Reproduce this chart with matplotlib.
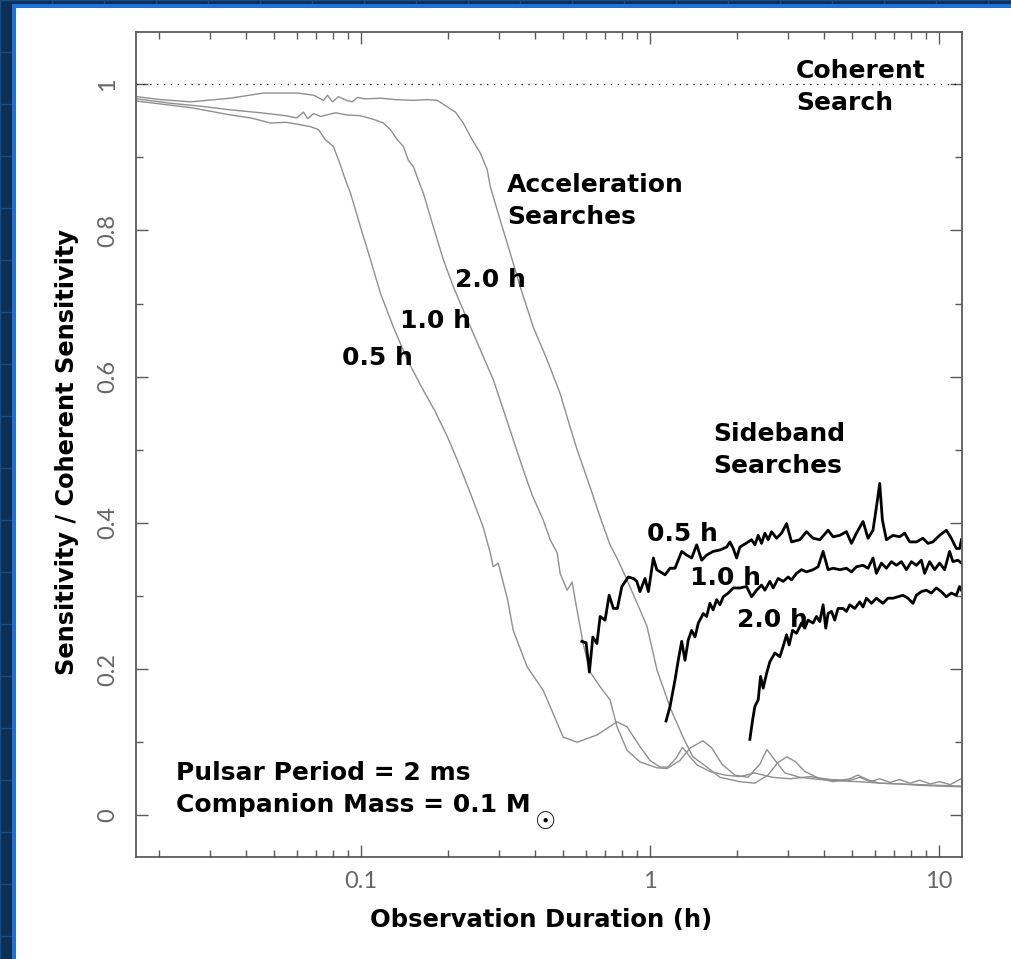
import matplotlib
matplotlib.use("Agg")
import matplotlib.pyplot as plt
from matplotlib.patches import Rectangle
from matplotlib.ticker import FixedLocator, FuncFormatter, LogLocator, NullFormatter, MultipleLocator

# ---------------- data ----------------
# Acceleration searches (grey curves); x = observation duration (h)
acc05_x = [0.0168, 0.0203, 0.0258, 0.0354, 0.0415, 0.0487, 0.0549, 0.0592, 0.0669, 0.0713,
           0.0754, 0.0803, 0.0850, 0.0884, 0.0920, 0.0996, 0.1079, 0.1168, 0.1295, 0.1447,
           0.1605, 0.1808, 0.1990, 0.2154, 0.2389, 0.2649, 0.2801, 0.2869, 0.2985, 0.3107,
           0.3216, 0.3363, 0.3759, 0.4270, 0.4624, 0.5007, 0.5596, 0.6558, 0.7691, 0.8325,
           0.9234, 1.000, 1.083, 1.154, 1.23, 1.295, 1.375, 1.453, 1.612, 1.82,
           2.046, 2.30, 2.65, 3.06, 3.58, 4.20, 4.93, 5.31, 5.78, 6.23,
           6.77, 7.30, 7.94, 8.57, 9.31, 10.04, 10.92, 11.9]
acc05_y = [0.977, 0.973, 0.968, 0.958, 0.954, 0.947, 0.948, 0.946, 0.942, 0.938,
           0.924, 0.915, 0.889, 0.869, 0.851, 0.805, 0.760, 0.714, 0.668, 0.623,
           0.589, 0.552, 0.518, 0.486, 0.441, 0.394, 0.359, 0.340, 0.345, 0.318,
           0.295, 0.253, 0.203, 0.171, 0.139, 0.107, 0.100, 0.110, 0.128, 0.121,
           0.094, 0.075, 0.066, 0.066, 0.078, 0.093, 0.080, 0.069, 0.060, 0.055,
           0.053, 0.058, 0.052, 0.050, 0.053, 0.049, 0.048, 0.052, 0.046, 0.050,
           0.045, 0.049, 0.044, 0.048, 0.043, 0.046, 0.042, 0.050]

acc10_x = [0.0168, 0.0220, 0.0279, 0.0354, 0.0450, 0.0549, 0.0599, 0.0633, 0.0654, 0.0686,
           0.0725, 0.0817, 0.0898, 0.0996, 0.1105, 0.1196, 0.1264, 0.1337, 0.1402, 0.1459,
           0.1520, 0.1579, 0.1644, 0.1780, 0.1928, 0.2087, 0.2333, 0.2587, 0.2869, 0.3107,
           0.3363, 0.3641, 0.3912, 0.4270, 0.4514, 0.4774, 0.4887, 0.5167, 0.5378, 0.5508,
           0.5870, 0.6204, 0.6718, 0.7274, 0.7691, 0.8325, 0.9234, 1.057, 1.145, 1.269,
           1.375, 1.524, 1.637, 1.773, 1.966, 2.181, 2.40, 2.536, 2.71, 2.927,
           3.30, 3.87, 4.53, 5.31, 6.23, 7.30, 8.57, 10.04, 11.9]
acc10_y = [0.980, 0.974, 0.970, 0.965, 0.961, 0.957, 0.954, 0.962, 0.953, 0.960,
           0.956, 0.961, 0.958, 0.957, 0.952, 0.947, 0.938, 0.924, 0.915, 0.896,
           0.887, 0.869, 0.851, 0.805, 0.760, 0.723, 0.678, 0.637, 0.596, 0.555,
           0.514, 0.473, 0.438, 0.404, 0.377, 0.359, 0.331, 0.308, 0.319, 0.295,
           0.235, 0.196, 0.176, 0.158, 0.121, 0.089, 0.073, 0.065, 0.064, 0.075,
           0.092, 0.102, 0.092, 0.070, 0.055, 0.052, 0.070, 0.090, 0.075, 0.058,
           0.052, 0.049, 0.047, 0.046, 0.044, 0.043, 0.042, 0.041, 0.040]

acc20_x = [0.0168, 0.0203, 0.0258, 0.0354, 0.0460, 0.0527, 0.0603, 0.0686, 0.0742, 0.0766,
           0.0797, 0.0836, 0.0891, 0.0935, 0.0972, 0.1036, 0.1168, 0.1316, 0.1520, 0.1697,
           0.1837, 0.1990, 0.2121, 0.2259, 0.2427, 0.2587, 0.2735, 0.2801, 0.3033, 0.3284,
           0.3556, 0.3944, 0.4406, 0.4887, 0.5292, 0.5596, 0.6204, 0.6718, 0.7274, 0.7752,
           0.8325, 0.9234, 0.9766, 1.057, 1.172, 1.300, 1.408, 1.573, 1.745, 2.046,
           2.305, 2.557, 2.767, 2.973, 3.169, 3.431, 3.87, 4.30, 4.91, 5.23,
           5.72, 6.23, 7.30, 8.57, 10.04, 11.9]
acc20_y = [0.983, 0.979, 0.976, 0.981, 0.988, 0.988, 0.988, 0.985, 0.978, 0.985,
           0.976, 0.983, 0.978, 0.976, 0.982, 0.980, 0.981, 0.979, 0.978, 0.979,
           0.978, 0.969, 0.962, 0.947, 0.924, 0.906, 0.883, 0.860, 0.814, 0.769,
           0.723, 0.668, 0.623, 0.577, 0.531, 0.500, 0.449, 0.408, 0.370, 0.349,
           0.322, 0.281, 0.258, 0.199, 0.148, 0.107, 0.080, 0.066, 0.052, 0.046,
           0.044, 0.055, 0.072, 0.080, 0.074, 0.060, 0.050, 0.046, 0.050, 0.055,
           0.048, 0.044, 0.043, 0.041, 0.040, 0.039]

# Sideband searches (black curves)
sb05_x = [0.581, 0.601, 0.617, 0.634, 0.655, 0.672, 0.699, 0.722, 0.747, 0.771,
          0.799, 0.841, 0.876, 0.900, 0.923, 0.961, 0.987, 1.027, 1.055, 1.127,
          1.173, 1.220, 1.287, 1.339, 1.393, 1.450, 1.509, 1.570, 1.654, 1.745,
          1.841, 1.890, 1.940, 1.993, 2.046, 2.186, 2.246, 2.305, 2.367, 2.431,
          2.496, 2.563, 2.633, 2.740, 2.851, 2.967, 3.087, 3.297, 3.478, 3.665,
          3.866, 4.130, 4.298, 4.533, 4.780, 4.975, 5.176, 5.455, 5.677, 5.906,
          6.117, 6.231, 6.365, 6.571, 6.925, 7.305, 7.600, 7.909, 8.342, 8.790,
          9.147, 9.519, 10.04, 10.59, 11.02, 11.47, 11.77, 11.95]
sb05_y = [0.238, 0.236, 0.196, 0.244, 0.235, 0.272, 0.267, 0.301, 0.283, 0.283,
          0.313, 0.326, 0.324, 0.320, 0.306, 0.324, 0.306, 0.352, 0.336, 0.329,
          0.338, 0.338, 0.361, 0.356, 0.352, 0.370, 0.349, 0.356, 0.361, 0.363,
          0.367, 0.374, 0.365, 0.352, 0.367, 0.374, 0.377, 0.370, 0.383, 0.372,
          0.386, 0.377, 0.388, 0.379, 0.386, 0.399, 0.374, 0.377, 0.388, 0.379,
          0.377, 0.390, 0.381, 0.383, 0.388, 0.372, 0.386, 0.402, 0.379, 0.390,
          0.431, 0.454, 0.404, 0.377, 0.383, 0.381, 0.386, 0.374, 0.374, 0.379,
          0.372, 0.374, 0.383, 0.390, 0.379, 0.365, 0.365, 0.377]

sb10_x = [1.136, 1.173, 1.220, 1.252, 1.287, 1.321, 1.356, 1.393, 1.431, 1.469,
          1.528, 1.570, 1.611, 1.654, 1.700, 1.745, 1.792, 1.864, 1.940, 2.046,
          2.158, 2.246, 2.337, 2.431, 2.496, 2.597, 2.667, 2.775, 2.887, 3.005,
          3.087, 3.211, 3.342, 3.478, 3.665, 3.814, 3.969, 4.130, 4.298, 4.533,
          4.780, 4.975, 5.176, 5.455, 5.677, 5.906, 6.069, 6.315, 6.571, 6.839,
          7.116, 7.405, 7.706, 8.018, 8.342, 8.680, 8.911, 9.273, 9.649, 10.04,
          10.45, 10.87, 11.16, 11.61, 11.95]
sb10_y = [0.129, 0.149, 0.185, 0.212, 0.238, 0.212, 0.240, 0.253, 0.244, 0.263,
          0.276, 0.272, 0.290, 0.281, 0.295, 0.288, 0.299, 0.304, 0.311, 0.311,
          0.313, 0.299, 0.308, 0.315, 0.308, 0.320, 0.311, 0.324, 0.320, 0.326,
          0.322, 0.331, 0.336, 0.333, 0.336, 0.340, 0.361, 0.336, 0.338, 0.336,
          0.338, 0.333, 0.340, 0.342, 0.338, 0.352, 0.331, 0.345, 0.338, 0.347,
          0.342, 0.347, 0.336, 0.347, 0.342, 0.349, 0.331, 0.347, 0.336, 0.345,
          0.336, 0.361, 0.347, 0.349, 0.345]

sb20_x = [2.215, 2.263, 2.305, 2.367, 2.412, 2.463, 2.530, 2.597, 2.703, 2.813,
          2.887, 2.967, 3.029, 3.112, 3.211, 3.342, 3.431, 3.522, 3.665, 3.766,
          3.866, 3.969, 4.054, 4.130, 4.243, 4.355, 4.471, 4.652, 4.780, 4.908,
          5.107, 5.314, 5.455, 5.605, 5.833, 6.069, 6.390, 6.650, 6.925, 7.208,
          7.499, 7.804, 8.122, 8.342, 8.680, 9.030, 9.397, 9.779, 10.18, 10.59,
          11.02, 11.47, 11.77, 11.95]
sb20_y = [0.104, 0.130, 0.149, 0.158, 0.190, 0.174, 0.194, 0.210, 0.222, 0.217,
          0.231, 0.247, 0.233, 0.253, 0.249, 0.263, 0.256, 0.267, 0.263, 0.272,
          0.265, 0.288, 0.256, 0.276, 0.279, 0.267, 0.283, 0.283, 0.279, 0.288,
          0.283, 0.292, 0.285, 0.297, 0.290, 0.297, 0.290, 0.297, 0.297, 0.299,
          0.301, 0.297, 0.290, 0.301, 0.306, 0.308, 0.304, 0.311, 0.306, 0.299,
          0.304, 0.301, 0.313, 0.308]

coherent_level = 1.0
x_major_ticks = [0.1, 1, 10]
x_major_labels = ["0.1", "1", "10"]
y_major_ticks = [0, 0.2, 0.4, 0.6, 0.8, 1.0]
y_minor_ticks = [0.1, 0.3, 0.5, 0.7, 0.9]

xlabel_text = "Observation Duration (h)"
ylabel_text = "Sensitivity / Coherent Sensitivity"

# ---------------- figure & slide background ----------------
W, H = 1012, 959
fig = plt.figure(figsize=(W / 100, H / 100), dpi=100)
navy = "#0b2f55"
fig.patch.set_facecolor(navy)

bg = fig.add_axes([0, 0, 1, 1])
bg.set_xlim(0, W)
bg.set_ylim(H, 0)
bg.set_facecolor(navy)
bg.xaxis.set_major_locator(MultipleLocator(52))
bg.yaxis.set_major_locator(MultipleLocator(52))
bg.grid(True, color="#1d4d80", lw=1.0)
bg.tick_params(length=0, labelleft=False, labelbottom=False)
for s in bg.spines.values():
    s.set_visible(False)
bg.add_patch(Rectangle((12, 4), W, H, facecolor="#2171d3", edgecolor="none", zorder=3))
bg.add_patch(Rectangle((16, 8), W, H, facecolor="white", edgecolor="none", zorder=4))

# ---------------- main axes ----------------
L, R, T, B = 136, 962, 32, 857
ax = fig.add_axes([L / W, 1 - B / H, (R - L) / W, (B - T) / H])
ax.set_zorder(5)
ax.set_facecolor("white")
ax.set_xscale("log")
ax.set_xlim(1 / 60, 12)
ax.set_ylim(-0.057, 1.0715)

grey = "#8f8f8f"
for xs, ys in [(acc05_x, acc05_y), (acc10_x, acc10_y), (acc20_x, acc20_y)]:
    ax.plot(xs, ys, color=grey, lw=1.0, solid_joinstyle="round")
for xs, ys in [(sb05_x, sb05_y), (sb10_x, sb10_y), (sb20_x, sb20_y)]:
    ax.plot(xs, ys, color="black", lw=2.0, solid_joinstyle="round")

ax.axhline(coherent_level, color="black", lw=0.9, linestyle=(0, (1, 4.5)))

spine_c = "#5a5a5a"
for s in ax.spines.values():
    s.set_color(spine_c)
    s.set_linewidth(1.3)

ax.xaxis.set_major_locator(FixedLocator(x_major_ticks))
ax.xaxis.set_major_formatter(FuncFormatter(lambda v, p: x_major_labels[p] if p is not None and p < len(x_major_labels) else ""))
ax.xaxis.set_minor_locator(LogLocator(base=10, subs=(2, 3, 4, 5, 6, 7, 8, 9)))
ax.xaxis.set_minor_formatter(NullFormatter())
ax.yaxis.set_major_locator(FixedLocator(y_major_ticks))
ax.yaxis.set_major_formatter(FuncFormatter(lambda v, p: f"{v:g}"))
ax.yaxis.set_minor_locator(FixedLocator(y_minor_ticks))

ax.tick_params(which="both", direction="in", top=True, right=True, color=spine_c, width=1.0)
ax.tick_params(which="major", length=8.6)
ax.tick_params(which="minor", length=4.8)
ax.tick_params(axis="x", which="major", pad=10, labelsize=17, labelcolor="#666666")
ax.tick_params(axis="y", which="major", pad=13, labelsize=17, labelcolor="#666666")
for lbl in ax.get_xticklabels() + ax.get_yticklabels():
    lbl.set_fontfamily(["Lato", "DejaVu Sans"])
    lbl.set_fontweight("normal")
for lbl in ax.get_yticklabels():
    lbl.set_rotation(90)
    lbl.set_va("center")
# the tick at the coherent level is drawn in black, as in the original
top_tick = ax.yaxis.get_major_ticks()[-1]
top_tick.tick1line.set_color("black")
top_tick.tick2line.set_color("black")

bold = dict(family="DejaVu Sans", weight="bold", color="black")
ax.set_xlabel(xlabel_text, fontsize=17.5, **bold)
ax.set_ylabel(ylabel_text, fontsize=17.3, **bold)
ax.xaxis.label.set_va("center")
ax.yaxis.label.set_va("center")
ax.xaxis.set_label_coords((541 - L) / (R - L), (B - 920) / (B - T))
ax.yaxis.set_label_coords((67 - L) / (R - L), (B - 452) / (B - T))


def axpos(px, py):
    return ((px - L) / (R - L), (B - py) / (B - T))


annotations = [
    ("Coherent\nSearch", 796, 87, 1.45),
    ("Acceleration\nSearches", 507, 201, 1.45),
    ("2.0 h", 455, 280, 1.2),
    ("1.0 h", 400, 321, 1.2),
    ("0.5 h", 342, 358, 1.2),
    ("Sideband\nSearches", 713, 450, 1.45),
    ("0.5 h", 647, 534, 1.2),
    ("1.0 h", 690, 578, 1.2),
    ("2.0 h", 737, 620, 1.2),
]
for txt, px, py, ls in annotations:
    fx, fy = axpos(px, py)
    ax.text(fx, fy, txt, transform=ax.transAxes, ha="left", va="center",
            fontsize=18, linespacing=ls, **bold)

fx, fy = axpos(176, 789)
info = ax.text(fx, fy, "Pulsar Period = 2 ms\nCompanion Mass = 0.1 M", transform=ax.transAxes,
               ha="left", va="center", fontsize=18, linespacing=1.45, **bold)
# solar-mass symbol as a subscript after the "M"
ax.annotate("\u2609", xy=(1, 0), xycoords=info, xytext=(4, -5), textcoords="offset pixels",
            ha="left", va="center", fontsize=17, family="DejaVu Sans", color="black")

fig.savefig("out.png", dpi=100, facecolor=fig.get_facecolor())
